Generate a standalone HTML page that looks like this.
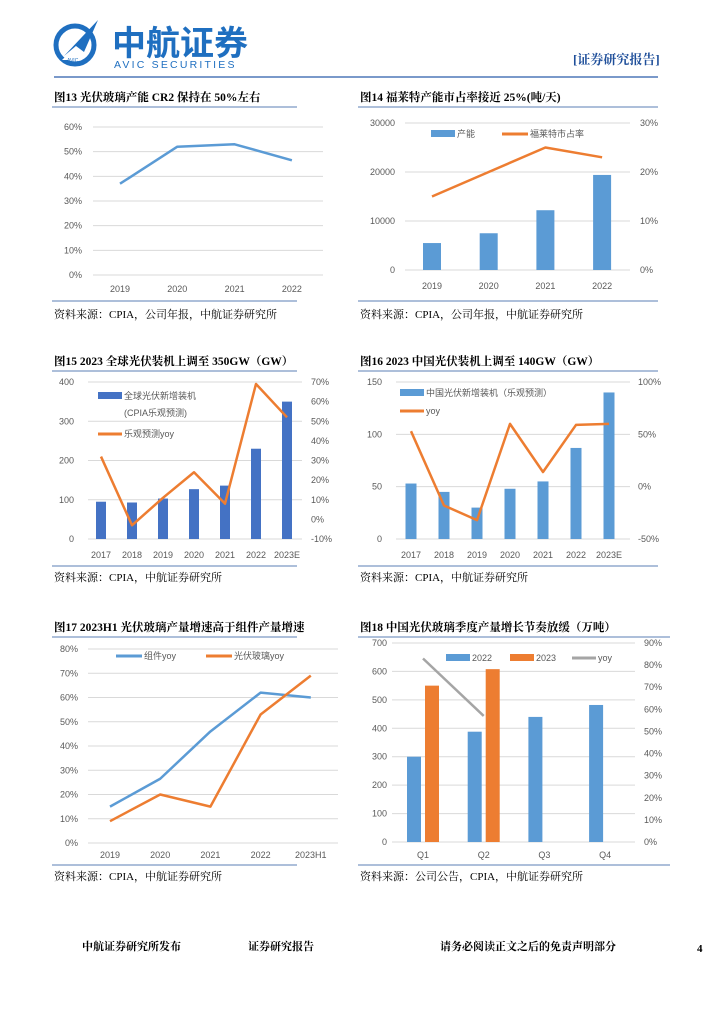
<!DOCTYPE html>
<html><head><meta charset="utf-8">
<style>
body{margin:0;background:#fff;width:724px;height:1024px;position:relative;overflow:hidden;font-family:"Liberation Serif","Noto Serif CJK SC",serif;}
svg{position:absolute;left:0;top:0}
</style></head>
<body>
<svg id="page" width="724" height="1024" viewBox="0 0 724 1024">
<g>
  <g>
    <circle cx="75" cy="45" r="19" fill="none" stroke="#1f6fc0" stroke-width="5"/>
    <path d="M64 56 L98 20 L84 52 L76 46 Z" fill="#1f6fc0"/>
    <path d="M62 60 L76 46 L70 60 Z" fill="#fff"/>
    <text x="67" y="62" font-family="Liberation Sans" font-size="5" fill="#1f6fc0">AVIC</text>
  </g>
  <text x="112" y="55" font-family="'Liberation Sans','Noto Sans CJK SC',sans-serif" font-weight="bold" font-size="34" fill="#1f6fc0">中航证券</text>
  <text x="114" y="68" font-family="'Liberation Sans',sans-serif" font-size="10.5" letter-spacing="2.2" fill="#1f6fc0">AVIC SECURITIES</text>
  <text x="573" y="64" font-family="'Liberation Serif','Noto Serif CJK SC',serif" font-weight="bold" font-size="13" fill="#1f4f9a">[证券研究报告]</text>
  <line x1="54" y1="77" x2="658" y2="77" stroke="#2a5caa" stroke-width="1.2"/>
</g>
<g id="charts"></g>
<g font-family="'Liberation Serif','Noto Serif CJK SC',serif" font-weight="bold" font-size="11">
  <text x="82" y="950">中航证券研究所发布</text>
  <text x="248" y="950">证券研究报告</text>
  <text x="440" y="950">请务必阅读正文之后的免责声明部分</text>
  <text x="697" y="952">4</text>
</g>
</svg>
<script>
// Chart 13
const c13Cats=["2019","2020","2021","2022"];
const c13Cr2=[37,52,53,46.5];
const c13Ticks=["0%","10%","20%","30%","40%","50%","60%"];
// Chart 14
const c14Cats=["2019","2020","2021","2022"];
const c14Capacity=[5500,7500,12200,19400];
const c14Share=[15,20,25,23];
const c14LeftTicks=["0","10000","20000","30000"];
const c14RightTicks=["0%","10%","20%","30%"];
// Chart 15
const c15Cats=["2017","2018","2019","2020","2021","2022","2023E"];
const c15Install=[95,93,103,127,136,230,350];
const c15Yoy=[32,-3,11,24,8,69,52];
const c15LeftTicks=["0","100","200","300","400"];
const c15RightTicks=["-10%","0%","10%","20%","30%","40%","50%","60%","70%"];
// Chart 16
const c16Cats=["2017","2018","2019","2020","2021","2022","2023E"];
const c16Install=[53,45,30,48,55,87,140];
const c16Yoy=[53,-18,-32,60,14,59,60];
const c16LeftTicks=["0","50","100","150"];
const c16RightTicks=["-50%","0%","50%","100%"];
// Chart 17
const c17Cats=["2019","2020","2021","2022","2023H1"];
const c17Module=[15,26.5,46,62,60];
const c17Glass=[9,20,15,53,69];
const c17Ticks=["0%","10%","20%","30%","40%","50%","60%","70%","80%"];
// Chart 18
const c18Cats=["Q1","Q2","Q3","Q4"];
const c18Y2022=[300,388,440,482];
const c18Y2023=[550,608];
const c18Yoy=[83,57];
const c18LeftTicks=["0","100","200","300","400","500","600","700"];
const c18RightTicks=["0%","10%","20%","30%","40%","50%","60%","70%","80%","90%"];

const NS="http://www.w3.org/2000/svg";
const root=document.getElementById('charts');
function mk(tag,attrs,parent){const e=document.createElementNS(NS,tag);for(const k in attrs)e.setAttribute(k,attrs[k]);(parent||root).appendChild(e);return e;}
function lin(d0,d1,r0,r1){return v=>r0+(v-d0)*(r1-r0)/(d1-d0);}
function txt(p,x,y,s,o){const t=mk('text',Object.assign({x:x,y:y,'font-size':9,fill:'#595959','font-family':"'Liberation Sans','Noto Sans CJK SC',sans-serif"},o||{}),p);t.textContent=s;return t;}

function panel(x0,x1,title,ty,source,sy,lineY1,lineY2,name){
  const g=mk('g',{});
  
  
  const t=txt(g,x0+2,ty,title,{'font-size':11.5,'font-weight':'bold',fill:'#000','font-family':"'Liberation Serif','Noto Serif CJK SC',serif"});
  
  
  mk('line',{x1:x0,x2:x1,y1:lineY1,y2:lineY1,stroke:'#5b7fb5','stroke-width':1},g);
  mk('line',{x1:x0,x2:x1,y1:lineY2,y2:lineY2,stroke:'#5b7fb5','stroke-width':1},g);
  const s=txt(g,x0+2,sy,source,{'font-size':11,fill:'#000','font-family':"'Liberation Serif','Noto Serif CJK SC',serif"});
  
  
  return g;
}
function grid(g,ticks,yTop,yBot,xL,xR,labX,anchor){
  ticks.forEach((s,i)=>{const y=yBot-(yBot-yTop)*i/(ticks.length-1);
    mk('line',{x1:xL,x2:xR,y1:y,y2:y,stroke:'#d9d9d9','stroke-width':1},g);
    const t=txt(g,labX,y+3,s,{'text-anchor':anchor||'end'});
    
    });
}
function rticks(g,ticks,yTop,yBot,labX){
  ticks.forEach((s,i)=>{const y=yBot-(yBot-yTop)*i/(ticks.length-1);
    const t=txt(g,labX,y+3,s,{'text-anchor':'start'});
    
    });
}
function xlabels(g,cats,xf,y){cats.forEach((c,i)=>{const t=txt(g,xf(i),y,c,{'text-anchor':'middle'});
  
  });}
function poly(g,vals,xf,yf,color,name,w){
  const pts=vals.map((v,i)=>xf(i)+','+yf(v)).join(' ');
  const p=mk('polyline',{points:pts,fill:'none',stroke:color,'stroke-width':w||2.5,'stroke-linejoin':'round'},g);
  
  
}
function bars(g,vals,xf,yf,w,color,name){
  vals.forEach((v,i)=>{const y=yf(v),y0=yf(0);
    const r=mk('rect',{x:xf(i)-w/2,y:y,width:w,height:y0-y,fill:color},g);
    
    });
}

// ---- Chart 13
{const g=panel(52,297,'图13  光伏玻璃产能 CR2 保持在 50%左右',101,'资料来源：CPIA，公司年报，中航证券研究所',318,107,301,'chart-13');
 const yTop=127,yBot=275,yf=lin(0,60,yBot,yTop),xf=i=>120+i*57.3;
 grid(g,c13Ticks,yTop,yBot,93,323,82);
 xlabels(g,c13Cats,xf,292);
 poly(g,c13Cr2,xf,yf,'#5b9bd5','cr2-line');}
// ---- Chart 14
{const g=panel(358,658,'图14  福莱特产能市占率接近 25%(吨/天)',101,'资料来源：CPIA，公司年报，中航证券研究所',318,107,301,'chart-14');
 const yTop=123,yBot=270,yf=lin(0,30000,yBot,yTop),yr=lin(0,30,yBot,yTop),xf=i=>432+i*56.7;
 grid(g,c14LeftTicks,yTop,yBot,405,630,395);
 rticks(g,c14RightTicks,yTop,yBot,640);
 xlabels(g,c14Cats,xf,289);
 bars(g,c14Capacity,xf,yf,18,'#5b9bd5','capacity-bar');
 poly(g,c14Share,xf,yr,'#ed7d31','share-line');
 const lg=mk('g',{},g);
 mk('rect',{x:431,y:130,width:24,height:7,fill:'#5b9bd5'},lg);txt(lg,457,137,'产能');
 mk('line',{x1:502,x2:528,y1:134,y2:134,stroke:'#ed7d31','stroke-width':3},lg);txt(lg,530,137,'福莱特市占率');}
// ---- Chart 15
{const g=panel(52,297,'图15  2023 全球光伏装机上调至 350GW（GW）',365,'资料来源：CPIA，中航证券研究所',581,371,566,'chart-15');
 const yTop=382,yBot=539,yf=lin(0,400,yBot,yTop),yr=lin(-10,70,yBot,yTop),xf=i=>101+i*31;
 grid(g,c15LeftTicks,yTop,yBot,88,302,74);
 rticks(g,c15RightTicks,yTop,yBot,311);
 xlabels(g,c15Cats,xf,558);
 bars(g,c15Install,xf,yf,10,'#4472c4','global-install-bar');
 poly(g,c15Yoy,xf,yr,'#ed7d31','global-yoy-line');
 const lg=mk('g',{},g);
 mk('rect',{x:98,y:392,width:24,height:7,fill:'#4472c4'},lg);txt(lg,124,399,'全球光伏新增装机');txt(lg,124,416,'(CPIA乐观预测)');
 mk('line',{x1:98,x2:122,y1:434,y2:434,stroke:'#ed7d31','stroke-width':3},lg);txt(lg,124,437,'乐观预测yoy');}
// ---- Chart 16
{const g=panel(358,658,'图16  2023 中国光伏装机上调至 140GW（GW）',365,'资料来源：CPIA，中航证券研究所',581,371,566,'chart-16');
 const yTop=382,yBot=539,yf=lin(0,150,yBot,yTop),yr=lin(-50,100,yBot,yTop),xf=i=>411+i*33;
 grid(g,c16LeftTicks,yTop,yBot,396,630,382);
 rticks(g,c16RightTicks,yTop,yBot,638);
 xlabels(g,c16Cats,xf,558);
 bars(g,c16Install,xf,yf,11,'#5b9bd5','china-install-bar');
 poly(g,c16Yoy,xf,yr,'#ed7d31','china-yoy-line');
 const lg=mk('g',{},g);
 mk('rect',{x:400,y:389,width:24,height:7,fill:'#5b9bd5'},lg);txt(lg,426,396,'中国光伏新增装机（乐观预测）');
 mk('line',{x1:400,x2:424,y1:411,y2:411,stroke:'#ed7d31','stroke-width':3},lg);txt(lg,426,414,'yoy');}
// ---- Chart 17
{const g=panel(52,297,'图17  2023H1 光伏玻璃产量增速高于组件产量增速',631,'资料来源：CPIA，中航证券研究所',880,637,865,'chart-17');
 const yTop=649,yBot=843,yf=lin(0,80,yBot,yTop),xf=i=>110+i*50.2;
 grid(g,c17Ticks,yTop,yBot,88,338,78);
 xlabels(g,c17Cats,xf,858);
 poly(g,c17Module,xf,yf,'#5b9bd5','module-yoy-line');
 poly(g,c17Glass,xf,yf,'#ed7d31','glass-yoy-line');
 const lg=mk('g',{},g);
 mk('line',{x1:116,x2:142,y1:656,y2:656,stroke:'#5b9bd5','stroke-width':3},lg);txt(lg,144,659,'组件yoy');
 mk('line',{x1:206,x2:232,y1:656,y2:656,stroke:'#ed7d31','stroke-width':3},lg);txt(lg,234,659,'光伏玻璃yoy');}
// ---- Chart 18
{const g=panel(358,670,'图18  中国光伏玻璃季度产量增长节奏放缓（万吨）',631,'资料来源：公司公告，CPIA，中航证券研究所',880,637,865,'chart-18');
 const yTop=643,yBot=842,yf=lin(0,700,yBot,yTop),yr=lin(0,90,yBot,yTop),xc=i=>423+i*60.7;
 grid(g,c18LeftTicks,yTop,yBot,392,635,387);
 rticks(g,c18RightTicks,yTop,yBot,644);
 xlabels(g,c18Cats,xc,858);
 bars(g,c18Y2022,i=>xc(i)-9,yf,14,'#5b9bd5','bar-2022');
 bars(g,c18Y2023,i=>xc(i)+9,yf,14,'#ed7d31','bar-2023');
 poly(g,c18Yoy,xc,yr,'#a5a5a5','yoy-line');
 const lg=mk('g',{},g);
 mk('rect',{x:446,y:654,width:24,height:7,fill:'#5b9bd5'},lg);txt(lg,472,661,'2022');
 mk('rect',{x:510,y:654,width:24,height:7,fill:'#ed7d31'},lg);txt(lg,536,661,'2023');
 mk('line',{x1:572,x2:596,y1:658,y2:658,stroke:'#a5a5a5','stroke-width':3},lg);txt(lg,598,661,'yoy');}
</script>
</body></html>
